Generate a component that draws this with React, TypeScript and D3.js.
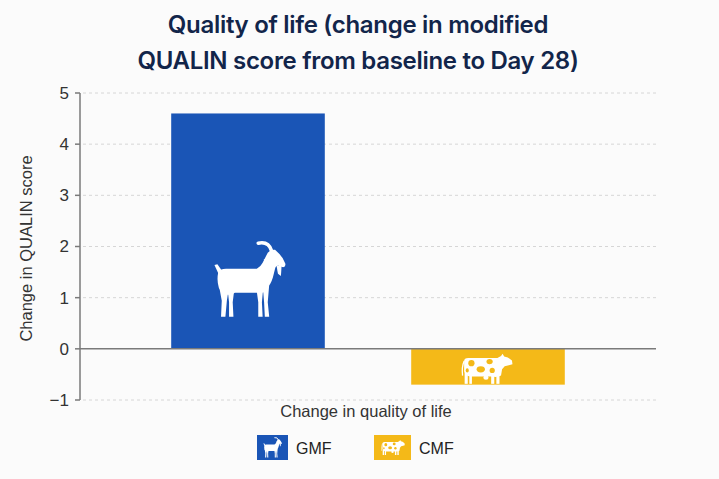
import React from "react";
import * as d3 from "d3";

const categories = ["GMF", "CMF"];
const values = [4.6, -0.7];
const yTicks = [-1, 0, 1, 2, 3, 4, 5];
const titleLines = ["Quality of life (change in modified", "QUALIN score from baseline to Day 28)"];
const yTitle = "Change in QUALIN score";
const xTitle = "Change in quality of life";
const colors = ["#1a55b6", "#f4b918"];

const W = 719;
const H = 479;
const FONT = "'Liberation Sans', Arial, Helvetica, sans-serif";

function Goat({ x, y, w, h, fill }: { x: number; y: number; w: number; h: number; fill: string }) {
  return (
    <g transform={`translate(${x},${y}) scale(${w / 100},${h / 107})`} fill={fill}>
      <path d="M7,44 Q9,38 18,38 L60,38 Q65,36 68,30 L75,16 Q79,11 85,12 L91,18 Q96,23 99,31 Q100,35 96,36 L90,34 Q86,33 85,38 L82,50 Q79,60 74,64 L72,70 L66,71 L30,71 L24,74 Q12,74 8,64 Q5,54 7,44 Z" />
      <path d="M8,46 L2,33 L6,32 L13,42 Z" />
      <path d="M87,34 L94,34 L93,48 L89,45 Z" />
      <path d="M79,19 L69,26 L78,25 Z" />
      <path d="M80,13 Q76,0 62,3" fill="none" stroke={fill} strokeWidth={5} strokeLinecap="round" />
      <path d="M8,60 L22,62 L19,82 L17,104 L11,104 L12,82 Z" />
      <path d="M20,66 L29,68 L27,84 L28,104 L22,104 L22,84 Z" />
      <path d="M59,62 L69,62 L67,84 L68,104 L62,104 L62,84 Z" />
      <path d="M68,60 L77,60 L75,84 L77,104 L71,104 L70,84 Z" />
    </g>
  );
}

function Cow({ x, y, w, h, fill, spot }: { x: number; y: number; w: number; h: number; fill: string; spot: string }) {
  return (
    <g transform={`translate(${x},${y}) scale(${w / 100},${h / 58})`}>
      <g fill={fill}>
        <path d="M6,14 Q6,8 14,8 L70,8 L77,4 L80,0 L83,5 L90,7 L98,13 L99,20 L92,22 L84,24 L79,30 L77,42 Q70,46 60,44 L18,44 Q8,42 6,34 Z" />
        <path d="M6,14 Q1,26 3,42" fill="none" stroke={fill} strokeWidth={2.5} />
        <rect x={7} y={36} width={6} height={22} />
        <rect x={16} y={38} width={5} height={20} />
        <rect x={58} y={38} width={6} height={20} />
        <rect x={68} y={36} width={6} height={22} />
        <ellipse cx={48} cy={46} rx={5} ry={4} />
      </g>
      <g fill={spot}>
        <ellipse cx={20} cy={18} rx={6} ry={6} />
        <ellipse cx={38} cy={30} rx={8} ry={6} />
        <ellipse cx={55} cy={15} rx={6} ry={5} />
        <ellipse cx={60} cy={32} rx={5} ry={5} />
        <ellipse cx={12} cy={32} rx={3} ry={4} />
      </g>
    </g>
  );
}

export default function App() {
  const left = 80;
  const right = 656;
  const y = d3.scaleLinear().domain([-1, 5]).range([400, 93]);
  const x = d3
    .scaleBand<string>()
    .domain(categories)
    .range([left, right])
    .paddingInner(0.36)
    .paddingOuter(0.38);
  const bw = x.bandwidth();

  return (
    <div style={{ position: "fixed", left: 0, top: 0 }}>
      <svg width={W} height={H} style={{ display: "block", background: "#fbfbfb" }}>
        {titleLines.map((t, i) => (
          <text
            key={i}
            x={358}
            y={33 + i * 36}
            textAnchor="middle"
            fontFamily="Inter, 'Open Sans', sans-serif"
            fontWeight={600}
            fontSize={24}
            letterSpacing={-0.3}
            fill="#12254a"
          >
            {t}
          </text>
        ))}

        {yTicks
          .filter((t) => t !== 0)
          .map((t) => (
            <line
              key={t}
              x1={left + 3}
              x2={right}
              y1={y(t)}
              y2={y(t)}
              stroke="#d6d6d6"
              strokeDasharray="3,3"
              strokeWidth={1}
            />
          ))}

        {categories.map((c, i) => {
          const v = values[i];
          const y0 = y(Math.max(0, v));
          const hh = Math.abs(y(v) - y(0));
          return <rect key={c} x={x(c)} y={y0} width={bw} height={hh} fill={colors[i]} />;
        })}

        <Goat x={(x("GMF") as number) + bw / 2 - 35} y={241} w={73} h={78} fill="#ffffff" />
        <Cow
          x={(x("CMF") as number) + bw / 2 - 27}
          y={y(0) + 5}
          w={52}
          h={30}
          fill="#ffffff"
          spot={colors[1]}
        />

        <line x1={left} x2={right} y1={y(0)} y2={y(0)} stroke="#7a7a7a" strokeWidth={1.5} />
        <line x1={left} x2={left} y1={y(5)} y2={y(-1)} stroke="#7a7a7a" strokeWidth={1.5} />
        {yTicks.map((t) => (
          <g key={t}>
            <line x1={left - 5} x2={left} y1={y(t)} y2={y(t)} stroke="#7a7a7a" strokeWidth={1.5} />
            <text
              x={left - 11}
              y={y(t)}
              dy="0.35em"
              textAnchor="end"
              fontFamily={FONT}
              fontSize={17}
              fill="#333"
            >
              {t < 0 ? `\u2212${Math.abs(t)}` : t}
            </text>
          </g>
        ))}

        <text
          transform={`translate(32,${(y(5) + y(-1)) / 2 + 2}) rotate(-90)`}
          textAnchor="middle"
          fontFamily={FONT}
          fontSize={16.5}
          fill="#333"
        >
          {yTitle}
        </text>

        <text x={366} y={417} textAnchor="middle" fontFamily={FONT} fontSize={16.5} fill="#333">
          {xTitle}
        </text>

        <g>
          <rect x={257} y={435} width={31} height={25} fill={colors[0]} />
          <Goat x={263} y={437} w={19} h={21} fill="#ffffff" />
          <text x={296} y={454} fontFamily={FONT} fontSize={16} fill="#222">
            {categories[0]}
          </text>
          <rect x={374} y={435} width={37} height={25} fill={colors[1]} />
          <Cow x={381} y={440} w={24} h={15} fill="#ffffff" spot={colors[1]} />
          <text x={419} y={454} fontFamily={FONT} fontSize={16} fill="#222">
            {categories[1]}
          </text>
        </g>
      </svg>
    </div>
  );
}
